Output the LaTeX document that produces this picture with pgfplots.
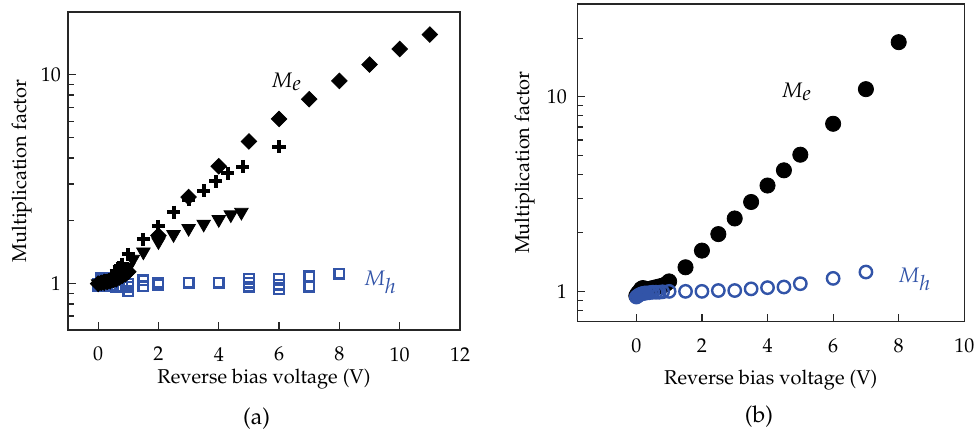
\documentclass[border=0pt]{standalone}
\usepackage[T1]{fontenc}
\usepackage{mathpazo}
\usepackage{pgfplots}
\pgfplotsset{compat=1.18}
\definecolor{mhblue}{RGB}{50,84,168}
\pgfplotsset{
  dia/.style={only marks, mark=square*, mark size=2.75pt, mark options={rotate=45, fill=black, draw=black}},
  pls/.style={only marks, mark=+, mark size=3.3pt, mark options={line width=2pt, draw=black}},
  tri/.style={only marks, mark=triangle*, mark size=3.9pt, mark options={rotate=180, fill=black, draw=black}},
  sqb/.style={only marks, mark=square, mark size=2.4pt, mark options={draw=mhblue, line width=1.2pt}},
  fci/.style={only marks, mark=*, mark size=3.8pt, mark options={fill=black, draw=black}},
  oci/.style={only marks, mark=o, mark size=3.1pt, mark options={draw=mhblue, line width=1.2pt}},
}
\begin{document}
\fontsize{10}{12}\selectfont
\begin{tikzpicture}
\useasboundingbox (0,0) rectangle (490pt,218pt);
% ---------- panel (a)
\begin{axis}[ymode=log, scale only axis, clip mode=individual,
  axis line style={black!85, line width=0.6pt},
  tick align=inside, xtick pos=bottom, ytick pos=left,
  major tick length=4pt, minor tick length=2.8pt,
  tick style={black!85, line width=0.6pt},
  ytick={1,10}, yticklabels={1,10},
  xticklabel style={yshift=-5pt},
  anchor=south west, at={(34pt,53pt)}, width=196pt, height=159pt,
  xmin=-1, xmax=12, ymin=0.6, ymax=20,
  xtick={0,2,...,12},
  minor ytick={0.7,0.8,0.9,2,3,4,5,6,7,8,9},
  xlabel={Reverse bias voltage (V)}, ylabel={Multiplication factor},
  every axis x label/.style={at={([yshift=-24.5pt]axis description cs:0.5,0)}, anchor=center},
  every axis y label/.style={at={([xshift=-23.2pt]axis description cs:0,0.5)}, anchor=center, rotate=90},
]
\addplot[sqb] coordinates {(0,1.0) (0.1,1.06) (0.2,1.07) (0.3,1.05) (0.5,1.02) (1,1.0) (1.5,1.04) (2,1.01) (3,1.01) (4,1.01) (5,1.056) (6,1.056) (7,1.087) (8,1.116)};
\addplot[sqb] coordinates {(0,0.98) (0.2,1.0) (0.4,0.98) (0.6,0.97) (0.8,0.97) (1,0.968) (1.5,0.97) (2,0.99) (5,1.01) (6,0.99) (7,0.968)};
\addplot[sqb] coordinates {(0.3,0.97) (0.6,0.96) (1,0.922) (5,0.968) (6,0.94)};
\addplot[tri] coordinates {(0,1.0) (0.2,1.01) (0.4,1.03) (0.6,1.06) (0.8,1.12) (1,1.2) (1.15,1.31) (1.5,1.42) (2,1.59) (2.5,1.72) (3,1.84) (3.5,1.93) (4,2.03) (4.4,2.14) (4.75,2.2)};
\addplot[pls] coordinates {(0,1.0) (0.1,1.01) (0.2,1.02) (0.3,1.03) (0.4,1.05) (0.5,1.07) (0.6,1.15) (0.7,1.2) (0.8,1.24) (1,1.38) (1.5,1.63) (2,1.88) (2.5,2.2) (3,2.52) (3.5,2.79) (3.9,3.09) (4.3,3.38) (4.8,3.64) (6,4.53)};
\addplot[dia] coordinates {(0,1.0) (0.1,1.01) (0.2,1.02) (0.3,1.02) (0.4,1.03) (0.5,1.04) (0.6,1.05) (0.7,1.07) (0.8,1.09) (0.9,1.11) (1,1.14) (2,1.7) (3,2.6) (4,3.65) (5,4.8) (6,6.15) (7,7.65) (8,9.35) (9,11.2) (10,13.3) (11,15.6)};
\node[font=\fontsize{10.5}{12}\selectfont] at (axis cs:6.25,9.25) {$M_{\textstyle e}$};
\node[text=mhblue, font=\fontsize{10.5}{12}\selectfont] at (axis cs:9.36,1.01) {$M_{\textstyle h}$};
\node[font=\fontsize{11.5}{14}\selectfont] at (axis description cs:0.481,-0.277) {(a)};
\end{axis}
% ---------- panel (b)
\begin{axis}[ymode=log, scale only axis, clip mode=individual,
  axis line style={black!85, line width=0.6pt},
  tick align=inside, xtick pos=bottom, ytick pos=left,
  major tick length=4pt, minor tick length=2.8pt,
  tick style={black!85, line width=0.6pt},
  ytick={1,10}, yticklabels={1,10},
  xticklabel style={yshift=-5pt},
  yticklabel style={xshift=-1.7pt},
  anchor=south west, at={(288.65pt,57.25pt)}, width=193.5pt, height=158.75pt,
  xmin=-1.8, xmax=10, ymin=0.7, ymax=30,
  xtick={0,2,...,10},
  minor ytick={0.8,0.9,2,3,4,5,6,7,8,9,20},
  xlabel={Reverse bias voltage (V)}, ylabel={Multiplication factor},
  every axis x label/.style={at={([yshift=-29.5pt]axis description cs:0.5,0)}, anchor=center},
  every axis y label/.style={at={([xshift=-26.3pt]axis description cs:0,0.5)}, anchor=center, rotate=90},
]
\addplot[fci] coordinates {(0,0.95) (0.05,0.98) (0.1,1.0) (0.15,1.03) (0.2,1.04) (0.3,1.03) (0.4,1.03) (0.5,1.04) (0.6,1.05) (0.7,1.06) (0.8,1.07) (0.9,1.09) (1,1.125) (1.5,1.33) (2,1.62) (2.5,1.97) (3,2.37) (3.5,2.88) (4,3.5) (4.5,4.19) (5,5.04) (6,7.27) (7,10.95) (8,19.1)};
\addplot[oci] coordinates {(0,0.935) (0.05,0.95) (0.1,0.96) (0.15,0.97) (0.2,0.975) (0.25,0.98) (0.3,0.98) (0.4,0.985) (0.5,0.99) (0.6,0.99) (0.7,0.99) (0.8,0.995) (1,1.0) (1.5,1.0) (2,1.0) (2.5,1.01) (3,1.01) (3.5,1.03) (4,1.045) (4.5,1.053) (5,1.095) (6,1.166) (7,1.257)};
\node[font=\fontsize{10.5}{12}\selectfont] at (axis cs:4.89,10.6) {$M_{\textstyle e}$};
\node[text=mhblue, font=\fontsize{10.5}{12}\selectfont] at (axis cs:8.49,1.15) {$M_{\textstyle h}$};
\node[font=\fontsize{11.5}{14}\selectfont] at (axis description cs:0.4695,-0.298) {(b)};
\end{axis}
\end{tikzpicture}
\end{document}
